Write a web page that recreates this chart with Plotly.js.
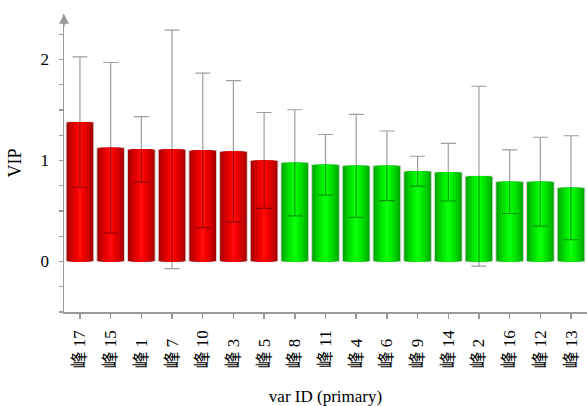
<!DOCTYPE html>
<html>
<head>
<meta charset="utf-8">
<script src="https://cdn.plot.ly/plotly-3.0.1.min.js"></script>
<style>html,body{margin:0;padding:0;background:#fff;}#chart{width:587px;height:406px;}</style>
</head>
<body>
<div id="chart"></div>
<script>
// Data
const categories = ['峰 17','峰 15','峰 1','峰 7','峰 10','峰 3','峰 5','峰 8','峰 11','峰 4','峰 6','峰 9','峰 14','峰 2','峰 16','峰 12','峰 13'];
const vip = [1.38, 1.125, 1.11, 1.11, 1.10, 1.09, 1.00, 0.977, 0.957, 0.947, 0.947, 0.894, 0.884, 0.845, 0.79, 0.79, 0.73];
const vipErr = [0.645, 0.845, 0.325, 1.18, 0.765, 0.70, 0.475, 0.525, 0.30, 0.51, 0.345, 0.148, 0.285, 0.89, 0.315, 0.44, 0.515];
const important = [1,1,1,1,1,1,1,0,0,0,0,0,0,0,0,0,0];
const yTickVals = [0, 1, 2];
const yTickText = ['0', '1', '2'];

// Styling: pseudo-cylindrical gradient via overlaid bars
const redShades = ['#a60000','#bc0000','#d00000','#e20000','#f20000','#ff0a0a'];
const greenShades = ['#00a600','#00bc00','#00d000','#00e200','#00f200','#0aff0a'];
const layerWidths = [0.9, 0.76, 0.62, 0.46, 0.3, 0.14];

// pad labels so that text is aligned at the bottom like the reference
const maxLen = Math.max(...categories.map(c => c.length));
const tickText = categories.map(c => c + '\u2007'.repeat(maxLen - c.length));

const xIdx = categories.map((c, i) => i);
const traces = layerWidths.map((w, k) => {
  const t = {
    type: 'bar',
    x: xIdx,
    y: vip,
    width: w,
    marker: {
      color: important.map(g => g ? redShades[k] : greenShades[k]),
      line: k === 0 ? {color: 'rgba(215,215,215,0.9)', width: 1} : {width: 0}
    },
    hoverinfo: 'skip',
    showlegend: false
  };
  if (k === layerWidths.length - 1) {
    t.error_y = {type: 'data', array: vipErr, visible: true, color: 'rgba(0,0,0,0.38)', thickness: 1.2, width: 7.5};
  }
  return t;
});

const serif = "'Liberation Serif', 'Times New Roman', 'Noto Sans CJK SC', serif";
const layout = {
  width: 587, height: 406,
  margin: {l: 64, r: 0, t: 14, b: 94, pad: 0},
  paper_bgcolor: '#fff', plot_bgcolor: '#fff',
  barmode: 'overlay',
  hovermode: false,
  font: {family: serif, color: '#000', size: 16},
  xaxis: {
    range: [-0.52, 16.52],
    tickmode: 'array', tickvals: xIdx, ticktext: tickText,
    tickangle: -90,
    ticks: 'outside', ticklen: 5, tickcolor: '#999', tickwidth: 1.5,
    showline: true, linecolor: '#999', linewidth: 1.5,
    showgrid: false, zeroline: false,
    ticklabelstandoff: 5,
    tickfont: {family: serif, size: 17},
    title: {text: 'var ID (primary)', font: {family: serif, size: 17}, standoff: 24}
  },
  yaxis: {
    range: [-0.5, 2.45],
    tickmode: 'array', tickvals: yTickVals, ticktext: yTickText,
    ticks: 'outside', ticklen: 4, tickcolor: '#999', tickwidth: 1.5,
    minor: {dtick: 0.25, tick0: 0, ticks: 'outside', ticklen: 4, tickcolor: '#999', tickwidth: 1.2},
    showline: true, linecolor: '#999', linewidth: 1.5,
    showgrid: false, zeroline: false,
    tickfont: {family: serif, size: 17},
    ticklabelstandoff: 6,
    title: {text: 'VIP', font: {family: serif, size: 18}, standoff: 14}
  },
  annotations: [{
    xref: 'paper', yref: 'paper', x: 0, y: 1.0, ax: 0, ay: 14,
    showarrow: true, arrowhead: 2, arrowsize: 1.3, arrowwidth: 1.5, arrowcolor: '#999', text: ''
  }]
};

Plotly.newPlot('chart', traces, layout, {displayModeBar: false, staticPlot: true});
</script>
</body>
</html>
